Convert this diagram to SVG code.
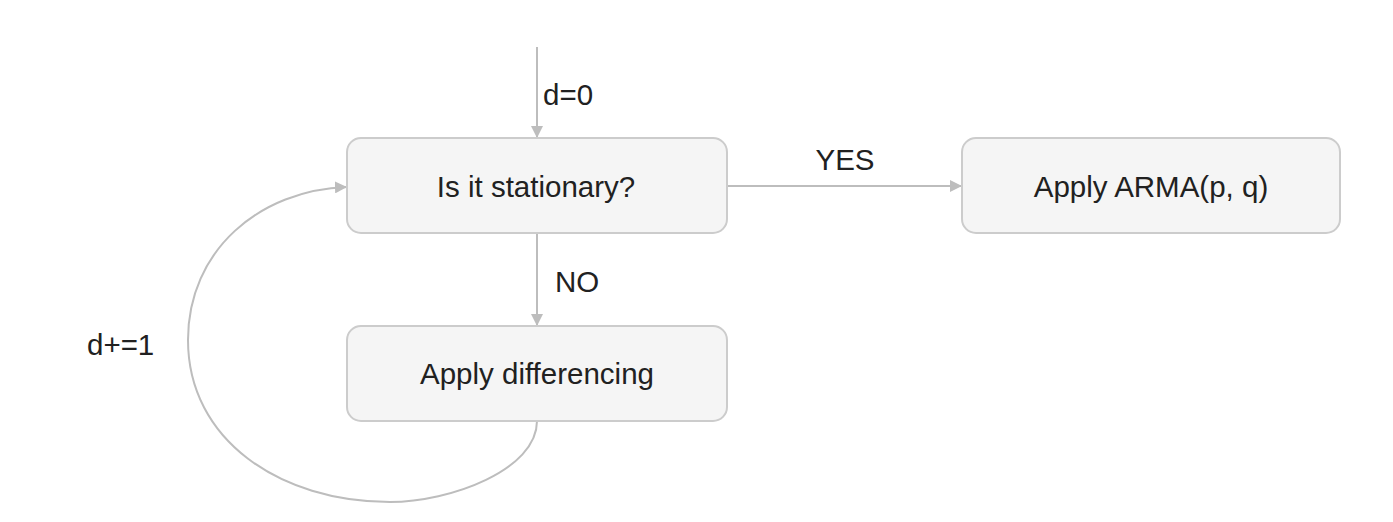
<svg xmlns="http://www.w3.org/2000/svg" width="1393" height="522" viewBox="0 0 1393 522">
<style>
.node rect{fill:#f5f5f5;stroke:#cccccc;stroke-width:2}
text{font-family:"Liberation Sans",Arial,sans-serif;font-size:29.5px;fill:#212121}
.node text{text-anchor:middle}
.edge{fill:none;stroke:#bdbdbd;stroke-width:2}
</style>
<defs>
<marker id="arr" viewBox="0 0 12 12" refX="12" refY="6" markerWidth="12" markerHeight="12" markerUnits="userSpaceOnUse" orient="auto">
<path d="M0,0 L12,6 L0,12 Z" fill="#bdbdbd"/>
</marker>
</defs>
<rect width="1393" height="522" fill="#ffffff"/>
<g id="connectors">
<path class="edge" d="M537,47 L537,138" marker-end="url(#arr)"/>
<path class="edge" d="M727,186 L962,186" marker-end="url(#arr)"/>
<path class="edge" d="M537,233 L537,326" marker-end="url(#arr)"/>
<path class="edge" d="M537,421 C537,470 450,502 390,502 C280,502 188,440 188,340 C188,250 260,190 347,187" marker-end="url(#arr)"/>
<text x="543" y="105">d=0</text>
<text x="845" y="170" text-anchor="middle">YES</text>
<text x="555" y="292">NO</text>
<text x="87" y="355">d+=1</text>
</g>
<g id="node-stationary" class="node">
<rect x="347" y="138" width="380" height="95" rx="14"/>
<text x="536" y="197">Is it stationary?</text>
</g>
<g id="node-differencing" class="node">
<rect x="347" y="326" width="380" height="95" rx="14"/>
<text x="537" y="384">Apply differencing</text>
</g>
<g id="node-arma" class="node">
<rect x="962" y="138" width="378" height="95" rx="14"/>
<text x="1151" y="197">Apply ARMA(p, q)</text>
</g>
</svg>
